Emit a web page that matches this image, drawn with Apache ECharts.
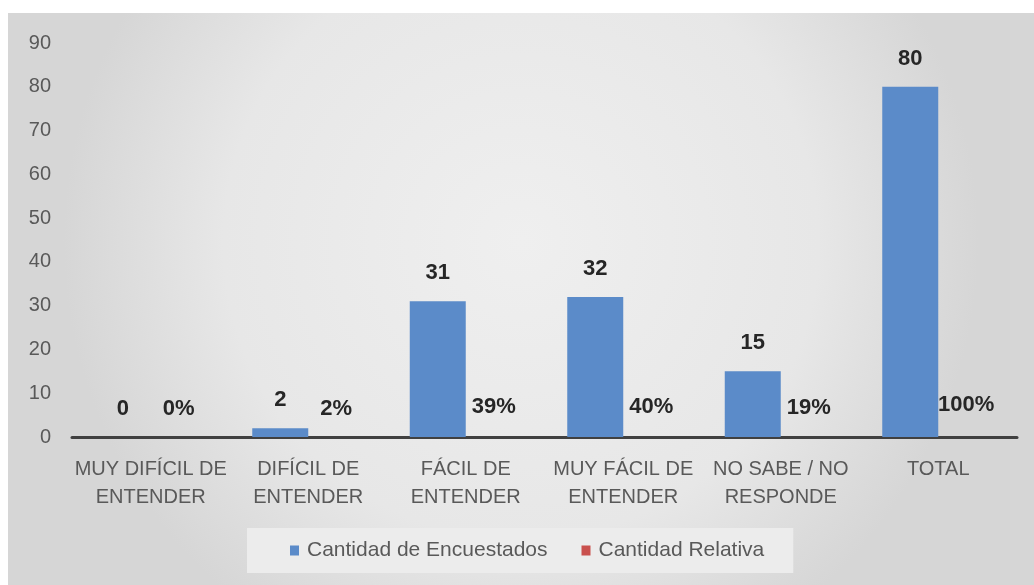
<!DOCTYPE html>
<html>
<head>
<meta charset="utf-8">
<script src="https://cdn.jsdelivr.net/npm/echarts@6/dist/echarts.min.js"></script>
<style>
  html, body { margin: 0; padding: 0; background: #ffffff; }
  #chart { width: 1034px; height: 585px; }
</style>
</head>
<body>
<div id="chart"></div>
<script>
const categories = [
  'MUY DIFÍCIL DE\nENTENDER',
  'DIFÍCIL DE\nENTENDER',
  'FÁCIL DE\nENTENDER',
  'MUY FÁCIL DE\nENTENDER',
  'NO SABE / NO\nRESPONDE',
  'TOTAL'
];
const encuestados = [0, 2, 31, 32, 15, 80];
const relativa = [0, 0.02, 0.39, 0.40, 0.19, 1.00];
const yTicks = { min: 0, max: 90, interval: 10 };
const seriesNames = ['Cantidad de Encuestados', 'Cantidad Relativa'];

const FONT = '"Liberation Sans", Arial, sans-serif';
const chart = echarts.init(document.getElementById('chart'), null, { renderer: 'canvas' });

chart.setOption({
  backgroundColor: '#ffffff',
  animation: false,
  graphic: [{
    type: 'rect',
    silent: true,
    z: -10,
    shape: { x: 8, y: 13, width: 1026, height: 572 },
    style: {
      fill: new echarts.graphic.RadialGradient(0.5, 0.4, 0.8, [
        { offset: 0, color: '#efefef' },
        { offset: 0.65, color: '#e7e7e7' },
        { offset: 1, color: '#d6d6d6' }
      ])
    }
  }],
  grid: { left: 72, right: 17, top: 43, bottom: 148, containLabel: false },
  legend: {
    left: 247,
    top: 528,
    padding: [12, 29, 12, 43],
    backgroundColor: '#ececec',
    itemWidth: 9,
    itemHeight: 10,
    itemGap: 34,
    icon: 'rect',
    textStyle: { fontFamily: FONT, fontSize: 21, color: '#595959', padding: [0, 0, 0, 3] },
    data: [
      { name: seriesNames[0], itemStyle: { color: '#5b8bc9', opacity: 1, borderWidth: 0 } },
      { name: seriesNames[1], itemStyle: { color: '#c9504d', opacity: 1, borderWidth: 0 } }
    ]
  },
  xAxis: {
    type: 'category',
    data: categories,
    axisLine: { show: true, lineStyle: { color: '#404040', width: 3 } },
    axisTick: { show: false },
    axisLabel: {
      interval: 0,
      margin: 18,
      fontFamily: FONT,
      fontSize: 20,
      lineHeight: 28,
      color: '#595959'
    }
  },
  yAxis: {
    type: 'value',
    min: yTicks.min,
    max: yTicks.max,
    interval: yTicks.interval,
    axisLine: { show: false },
    axisTick: { show: false },
    splitLine: { show: false },
    axisLabel: { margin: 21, fontFamily: FONT, fontSize: 20, color: '#595959' }
  },
  series: [
    {
      name: seriesNames[0],
      type: 'bar',
      data: encuestados,
      barWidth: 56,
      barGap: '0%',
      itemStyle: { color: '#5b8bc9' },
      label: {
        show: true,
        position: 'top',
        distance: 17,
        fontFamily: FONT,
        fontSize: 22,
        fontWeight: 'bold',
        color: '#262626'
      }
    },
    {
      name: seriesNames[1],
      type: 'bar',
      data: relativa,
      barWidth: 56,
      barGap: '0%',
      itemStyle: { color: 'rgba(201,80,77,0)' },
      label: {
        show: true,
        position: 'top',
        distance: 17,
        fontFamily: FONT,
        fontSize: 22,
        fontWeight: 'bold',
        color: '#262626',
        formatter: p => Math.round(p.value * 100) + '%'
      }
    }
  ]
});
</script>
</body>
</html>
